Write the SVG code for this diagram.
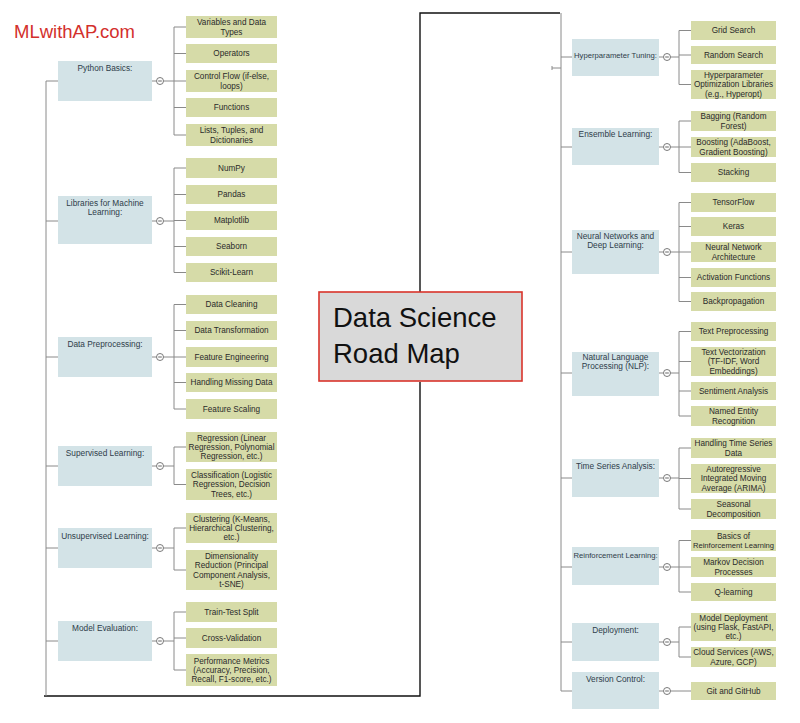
<svg xmlns="http://www.w3.org/2000/svg" xmlns:xlink="http://www.w3.org/1999/xlink" width="800" height="723" viewBox="0 0 800 723">
<style>
text{font-family:"Liberation Sans",Arial,sans-serif;font-size:8.2px;text-anchor:middle}
.p rect{fill:#d3e3e7}
.p text{fill:#2f3d4a;font-size:8.3px}
.c rect{fill:#d6dba8}
.c text{fill:#2a2a2a}
.p text.n{font-size:7.7px}
.c text.n{font-size:7.6px}
.cn{stroke:#8a8a8a;stroke-width:1;fill:none}
.blk{stroke:#111;stroke-width:1.4;fill:none}
.tg{fill:#fff;stroke:#6a6a6a;stroke-width:0.9}
</style>
<defs>
<g id="tog"><circle class="tg" r="3.5"/><line x1="-1.8" x2="1.8" y1="0" y2="0" stroke="#555" stroke-width="0.9"/></g>
</defs>
<rect width="800" height="723" fill="#fff"/>

<g id="connectors">
<path class="blk" d="M44,696 H420 V382 M420,292 V13 H560"/>
<path class="cn" d="M46,81 V696"/>
<path class="cn" d="M561,13 V691"/>
<path class="cn" d="M552,66 V70 M552,68 H561"/>
<path class="cn" d="M46,81 H58 M46,221 H58 M46,357 H58 M46,466 H58 M46,548 H58 M46,641 H58"/>
<path class="cn" d="M561,57 H572 M561,147 H572 M561,252 H572 M561,373 H572 M561,478 H572 M561,567 H572 M561,642 H572 M561,691 H572"/>
<path class="cn" d="M152,81 H156.5 M163.5,81 H174 M174,27 V135 M174,27 H186 M174,53.5 H186 M174,81 H186 M174,107.5 H186 M174,135 H186"/>
<path class="cn" d="M152,221 H156.5 M163.5,221 H174 M174,168 V272.5 M174,168 H186 M174,194.5 H186 M174,220.5 H186 M174,246.5 H186 M174,272.5 H186"/>
<path class="cn" d="M152,357 H156.5 M163.5,357 H174 M174,304.5 V409 M174,304.5 H186 M174,330.5 H186 M174,357 H186 M174,382.5 H186 M174,409 H186"/>
<path class="cn" d="M152,466 H156.5 M163.5,466 H174 M174,447 V484.5 M174,447 H186 M174,484.5 H186"/>
<path class="cn" d="M152,548 H156.5 M163.5,548 H174 M174,528 V570 M174,528 H186 M174,570 H186"/>
<path class="cn" d="M152,641 H156.5 M163.5,641 H174 M174,612 V670 M174,612 H186 M174,638 H186 M174,670 H186"/>
<path class="cn" d="M659,57 H663.5 M670.5,57 H679 M679,30.5 V84.5 M679,30.5 H691 M679,55 H691 M679,84.5 H691"/>
<path class="cn" d="M659,147 H663.5 M670.5,147 H679 M679,121 V172.5 M679,121 H691 M679,147 H691 M679,172.5 H691"/>
<path class="cn" d="M659,252 H663.5 M670.5,252 H679 M679,202.5 V301.5 M679,202.5 H691 M679,226.5 H691 M679,252 H691 M679,277.5 H691 M679,301.5 H691"/>
<path class="cn" d="M659,373 H663.5 M670.5,373 H679 M679,331.5 V416 M679,331.5 H691 M679,361.5 H691 M679,391 H691 M679,416 H691"/>
<path class="cn" d="M659,478 H663.5 M670.5,478 H679 M679,448 V509 M679,448 H691 M679,478.5 H691 M679,509 H691"/>
<path class="cn" d="M659,567 H663.5 M670.5,567 H679 M679,540.5 V592 M679,540.5 H691 M679,567 H691 M679,592 H691"/>
<path class="cn" d="M659,642 H663.5 M670.5,642 H679 M679,627 V657 M679,627 H691 M679,657 H691"/>
<path class="cn" d="M659,691 H663.5 M670.5,691 H691"/>
<use xlink:href="#tog" x="160" y="81"/>
<use xlink:href="#tog" x="160" y="221"/>
<use xlink:href="#tog" x="160" y="357"/>
<use xlink:href="#tog" x="160" y="466"/>
<use xlink:href="#tog" x="160" y="548"/>
<use xlink:href="#tog" x="160" y="641"/>
<use xlink:href="#tog" x="667" y="57"/>
<use xlink:href="#tog" x="667" y="147"/>
<use xlink:href="#tog" x="667" y="252"/>
<use xlink:href="#tog" x="667" y="373"/>
<use xlink:href="#tog" x="667" y="478"/>
<use xlink:href="#tog" x="667" y="567"/>
<use xlink:href="#tog" x="667" y="642"/>
<use xlink:href="#tog" x="667" y="691"/>
</g>

<g id="logo"><text x="14" y="38" style="font-size:18.5px;text-anchor:start;fill:#d3302c">MLwithAP.com</text></g>

<g id="center">
<rect x="319" y="292" width="203" height="89" fill="#d9d9d9" stroke="#d9342b" stroke-width="1.6"/>
<text x="333" y="327" style="font-size:27.5px;text-anchor:start;fill:#111">Data Science</text>
<text x="333" y="363" style="font-size:27.5px;text-anchor:start;fill:#111">Road Map</text>
</g>

<g id="python-basics" class="p"><rect x="58" y="61" width="94" height="40"/><text x="105" y="71">Python Basics:</text></g>
<g id="libraries" class="p"><rect x="58" y="196" width="94" height="48"/><text x="105" y="206">Libraries for Machine<tspan x="105" dy="9.2">Learning:</tspan></text></g>
<g id="data-preprocessing" class="p"><rect x="58" y="337" width="94" height="40"/><text x="105" y="347">Data Preprocessing:</text></g>
<g id="supervised" class="p"><rect x="58" y="446" width="94" height="40"/><text x="105" y="456">Supervised Learning:</text></g>
<g id="unsupervised" class="p"><rect x="58" y="528" width="94" height="40"/><text x="105" y="539">Unsupervised Learning:</text></g>
<g id="model-evaluation" class="p"><rect x="58" y="621" width="94" height="40"/><text x="105" y="631">Model Evaluation:</text></g>

<g id="pb-1" class="c"><rect x="186" y="16" width="91" height="22"/><text x="231.5" y="25.2">Variables and Data<tspan x="231.5" dy="9.4">Types</tspan></text></g>
<g id="pb-2" class="c"><rect x="186" y="44" width="91" height="19"/><text x="231.5" y="56.4">Operators</text></g>
<g id="pb-3" class="c"><rect x="186" y="70" width="91" height="22"/><text x="231.5" y="79.2">Control Flow (if-else,<tspan x="231.5" dy="9.4">loops)</tspan></text></g>
<g id="pb-4" class="c"><rect x="186" y="98" width="91" height="19"/><text x="231.5" y="110.4">Functions</text></g>
<g id="pb-5" class="c"><rect x="186" y="124" width="91" height="22"/><text x="231.5" y="133.2">Lists, Tuples, and<tspan x="231.5" dy="9.4">Dictionaries</tspan></text></g>

<g id="lib-1" class="c"><rect x="186" y="158" width="91" height="20"/><text x="231.5" y="170.9">NumPy</text></g>
<g id="lib-2" class="c"><rect x="186" y="185" width="91" height="19"/><text x="231.5" y="197.4">Pandas</text></g>
<g id="lib-3" class="c"><rect x="186" y="211" width="91" height="19"/><text x="231.5" y="223.4">Matplotlib</text></g>
<g id="lib-4" class="c"><rect x="186" y="237" width="91" height="19"/><text x="231.5" y="249.4">Seaborn</text></g>
<g id="lib-5" class="c"><rect x="186" y="263" width="91" height="19"/><text x="231.5" y="275.4">Scikit-Learn</text></g>

<g id="dp-1" class="c"><rect x="186" y="295" width="91" height="19"/><text x="231.5" y="307.4">Data Cleaning</text></g>
<g id="dp-2" class="c"><rect x="186" y="321" width="91" height="19"/><text x="231.5" y="333.4">Data Transformation</text></g>
<g id="dp-3" class="c"><rect x="186" y="347" width="91" height="20"/><text x="231.5" y="359.9">Feature Engineering</text></g>
<g id="dp-4" class="c"><rect x="186" y="373" width="91" height="19"/><text x="231.5" y="385.4">Handling Missing Data</text></g>
<g id="dp-5" class="c"><rect x="186" y="399" width="91" height="20"/><text x="231.5" y="411.9">Feature Scaling</text></g>

<g id="sl-1" class="c"><rect x="186" y="432" width="91" height="30"/><text x="231.5" y="440.5">Regression (Linear<tspan x="231.5" dy="9.4">Regression, Polynomial</tspan><tspan x="231.5" dy="9.4">Regression, etc.)</tspan></text></g>
<g id="sl-2" class="c"><rect x="186" y="469" width="91" height="31"/><text x="231.5" y="478">Classification (Logistic<tspan x="231.5" dy="9.4">Regression, Decision</tspan><tspan x="231.5" dy="9.4">Trees, etc.)</tspan></text></g>

<g id="ul-1" class="c"><rect x="186" y="513" width="91" height="30"/><text x="231.5" y="521.5">Clustering (K-Means,<tspan x="231.5" dy="9.4">Hierarchical Clustering,</tspan><tspan x="231.5" dy="9.4">etc.)</tspan></text></g>
<g id="ul-2" class="c"><rect x="186" y="550" width="91" height="40"/><text x="231.5" y="558.8">Dimensionality<tspan x="231.5" dy="9.4">Reduction (Principal</tspan><tspan x="231.5" dy="9.4">Component Analysis,</tspan><tspan x="231.5" dy="9.4">t-SNE)</tspan></text></g>

<g id="me-1" class="c"><rect x="186" y="602" width="91" height="20"/><text x="231.5" y="614.9">Train-Test Split</text></g>
<g id="me-2" class="c"><rect x="186" y="628" width="91" height="20"/><text x="231.5" y="640.9">Cross-Validation</text></g>
<g id="me-3" class="c"><rect x="186" y="654" width="91" height="32"/><text x="231.5" y="663.5">Performance Metrics<tspan x="231.5" dy="9.4">(Accuracy, Precision,</tspan><tspan x="231.5" dy="9.4">Recall, F1-score, etc.)</tspan></text></g>

<g id="hyperparameter" class="p"><rect x="572" y="39" width="87" height="37"/><text class="n" x="615.5" y="58">Hyperparameter Tuning:</text></g>
<g id="ensemble" class="p"><rect x="572" y="128" width="87" height="37"/><text x="615.5" y="137">Ensemble Learning:</text></g>
<g id="neural" class="p"><rect x="572" y="230" width="87" height="44"/><text x="615.5" y="239">Neural Networks and<tspan x="615.5" dy="9">Deep Learning:</tspan></text></g>
<g id="nlp" class="p"><rect x="572" y="352" width="87" height="44"/><text x="615.5" y="360">Natural Language<tspan x="615.5" dy="9">Processing (NLP):</tspan></text></g>
<g id="time-series" class="p"><rect x="572" y="459" width="87" height="38"/><text x="615.5" y="469">Time Series Analysis:</text></g>
<g id="reinforcement" class="p"><rect x="572" y="547" width="87" height="38"/><text class="n" x="615.5" y="558">Reinforcement Learning:</text></g>
<g id="deployment" class="p"><rect x="572" y="623" width="87" height="38"/><text x="615.5" y="633">Deployment:</text></g>
<g id="version-control" class="p"><rect x="572" y="672" width="87" height="37"/><text x="615.5" y="682">Version Control:</text></g>

<g id="hp-1" class="c"><rect x="691" y="21" width="85" height="19"/><text x="733.5" y="33.4">Grid Search</text></g>
<g id="hp-2" class="c"><rect x="691" y="46" width="85" height="18"/><text x="733.5" y="57.9">Random Search</text></g>
<g id="hp-3" class="c"><rect x="691" y="70" width="85" height="29"/><text x="733.5" y="78">Hyperparameter<tspan x="733.5" dy="9.4">Optimization Libraries</tspan><tspan x="733.5" dy="9.4">(e.g., Hyperopt)</tspan></text></g>

<g id="en-1" class="c"><rect x="691" y="111" width="85" height="20"/><text x="733.5" y="119.2">Bagging (Random<tspan x="733.5" dy="9.4">Forest)</tspan></text></g>
<g id="en-2" class="c"><rect x="691" y="137" width="85" height="20"/><text x="733.5" y="145.2">Boosting (AdaBoost,<tspan x="733.5" dy="9.4">Gradient Boosting)</tspan></text></g>
<g id="en-3" class="c"><rect x="691" y="163" width="85" height="19"/><text x="733.5" y="175.4">Stacking</text></g>

<g id="nn-1" class="c"><rect x="691" y="193" width="85" height="19"/><text x="733.5" y="205.4">TensorFlow</text></g>
<g id="nn-2" class="c"><rect x="691" y="217" width="85" height="19"/><text x="733.5" y="229.4">Keras</text></g>
<g id="nn-3" class="c"><rect x="691" y="242" width="85" height="20"/><text x="733.5" y="250.2">Neural Network<tspan x="733.5" dy="9.4">Architecture</tspan></text></g>
<g id="nn-4" class="c"><rect x="691" y="268" width="85" height="19"/><text x="733.5" y="280.4">Activation Functions</text></g>
<g id="nn-5" class="c"><rect x="691" y="292" width="85" height="19"/><text x="733.5" y="304.4">Backpropagation</text></g>

<g id="nlp-1" class="c"><rect x="691" y="322" width="85" height="19"/><text x="733.5" y="334.4">Text Preprocessing</text></g>
<g id="nlp-2" class="c"><rect x="691" y="347" width="85" height="29"/><text x="733.5" y="355">Text Vectorization<tspan x="733.5" dy="9.4">(TF-IDF, Word</tspan><tspan x="733.5" dy="9.4">Embeddings)</tspan></text></g>
<g id="nlp-3" class="c"><rect x="691" y="382" width="85" height="18"/><text x="733.5" y="393.9">Sentiment Analysis</text></g>
<g id="nlp-4" class="c"><rect x="691" y="406" width="85" height="20"/><text x="733.5" y="414.2">Named Entity<tspan x="733.5" dy="9.4">Recognition</tspan></text></g>

<g id="ts-1" class="c"><rect x="691" y="438" width="85" height="20"/><text x="733.5" y="446.2">Handling Time Series<tspan x="733.5" dy="9.4">Data</tspan></text></g>
<g id="ts-2" class="c"><rect x="691" y="464" width="85" height="29"/><text x="733.5" y="472">Autoregressive<tspan x="733.5" dy="9.4">Integrated Moving</tspan><tspan x="733.5" dy="9.4">Average (ARIMA)</tspan></text></g>
<g id="ts-3" class="c"><rect x="691" y="499" width="85" height="20"/><text x="733.5" y="507.2">Seasonal<tspan x="733.5" dy="9.4">Decomposition</tspan></text></g>

<g id="rl-1" class="c"><rect x="691" y="530" width="85" height="21"/><text x="733.5" y="538.7">Basics of<tspan class="n" x="733.5" dy="9.4" style="font-size:7.6px">Reinforcement Learning</tspan></text></g>
<g id="rl-2" class="c"><rect x="691" y="557" width="85" height="20"/><text x="733.5" y="565.2">Markov Decision<tspan x="733.5" dy="9.4">Processes</tspan></text></g>
<g id="rl-3" class="c"><rect x="691" y="583" width="85" height="18"/><text x="733.5" y="594.9">Q-learning</text></g>

<g id="dep-1" class="c"><rect x="691" y="613" width="85" height="28"/><text x="733.5" y="620.5">Model Deployment<tspan x="733.5" dy="9.4">(using Flask, FastAPI,</tspan><tspan x="733.5" dy="9.4">etc.)</tspan></text></g>
<g id="dep-2" class="c"><rect x="691" y="647" width="85" height="20"/><text x="733.5" y="655.2">Cloud Services (AWS,<tspan x="733.5" dy="9.4">Azure, GCP)</tspan></text></g>

<g id="vc-1" class="c"><rect x="691" y="682" width="85" height="18"/><text x="733.5" y="693.9">Git and GitHub</text></g>
</svg>
